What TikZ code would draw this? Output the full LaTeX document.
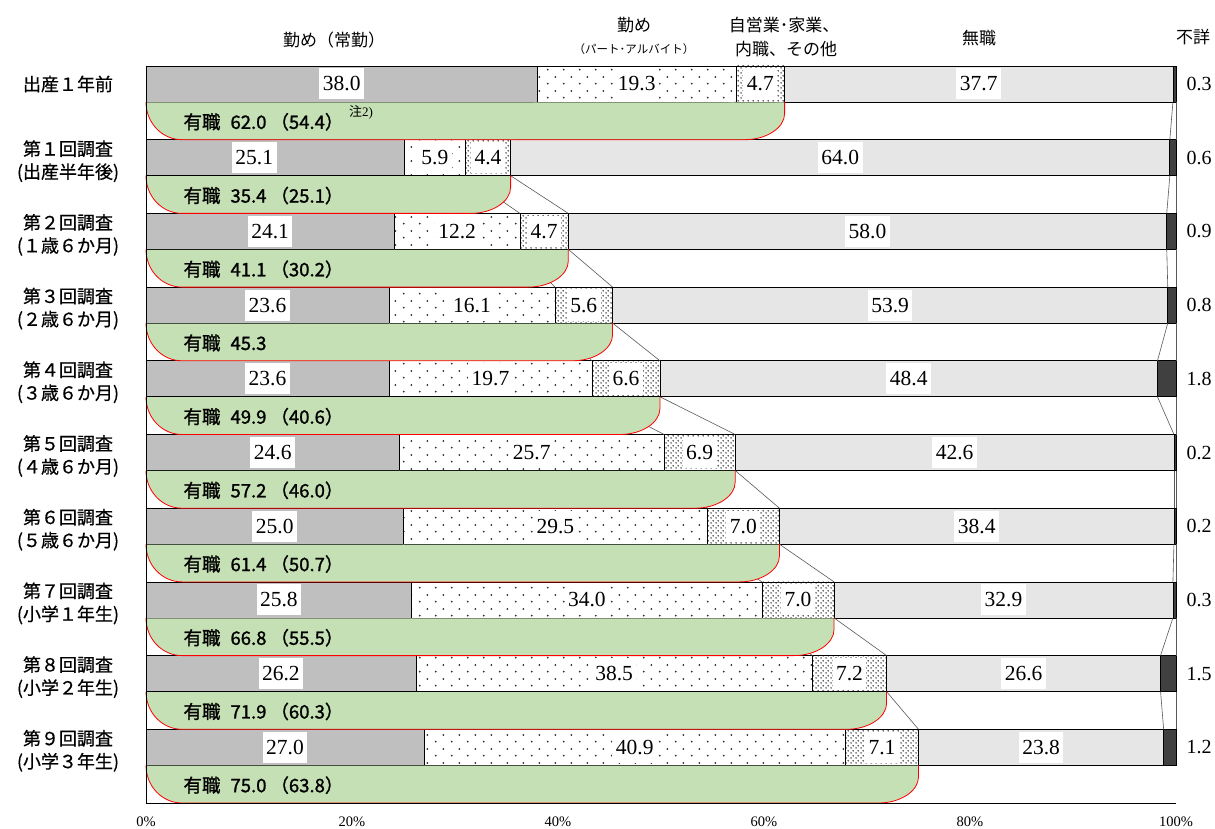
\documentclass[tikz,border=0pt]{standalone}
\usepackage{fontspec}
\setmainfont{Liberation Serif}
\newfontfamily\jp{Noto Sans CJK JP}
\newfontfamily\jpm[FakeBold=1.3]{Noto Sans CJK JP}
\newfontfamily\jpr[FakeBold=0.6]{Noto Sans CJK JP}
\usetikzlibrary{patterns}
\definecolor{regcol}{HTML}{BFBFBF}
\definecolor{nojob}{HTML}{E6E6E6}
\definecolor{unkcol}{HTML}{404040}
\definecolor{gcol}{HTML}{C5E0B4}
\definecolor{serline}{HTML}{595959}
\definecolor{dotcol}{HTML}{303030}
\pgfdeclarepatternformonly{sparsedots}{\pgfqpoint{0pt}{0pt}}{\pgfqpoint{16pt}{14pt}}{\pgfqpoint{16pt}{14pt}}{%
  \pgfpathcircle{\pgfqpoint{4pt}{3.5pt}}{1.05pt}%
  \pgfpathcircle{\pgfqpoint{12pt}{10.5pt}}{1.05pt}%
  \pgfusepath{fill}}
\pgfdeclarepatternformonly{densedots}{\pgfqpoint{0pt}{0pt}}{\pgfqpoint{5pt}{5pt}}{\pgfqpoint{5pt}{5pt}}{%
  \pgfpathcircle{\pgfqpoint{1.25pt}{1.25pt}}{0.95pt}%
  \pgfpathcircle{\pgfqpoint{3.75pt}{3.75pt}}{0.95pt}%
  \pgfusepath{fill}}
\def\rows{0/38.0/19.3/4.7/37.7/0.3/{有職\hspace{10pt}62.0\hspace{4pt}（54.4）}/0,
1/25.1/5.9/4.4/64.0/0.6/{有職\hspace{10pt}35.4\hspace{4pt}（25.1）}/-21,
2/24.1/12.2/4.7/58.0/0.9/{有職\hspace{10pt}41.1\hspace{4pt}（30.2）}/0,
3/23.6/16.1/5.6/53.9/0.8/{有職\hspace{10pt}45.3}/0,
4/23.6/19.7/6.6/48.4/1.8/{有職\hspace{10pt}49.9\hspace{4pt}（40.6）}/0,
5/24.6/25.7/6.9/42.6/0.2/{有職\hspace{10pt}57.2\hspace{4pt}（46.0）}/0,
6/25.0/29.5/7.0/38.4/0.2/{有職\hspace{10pt}61.4\hspace{4pt}（50.7）}/0,
7/25.8/34.0/7.0/32.9/0.3/{有職\hspace{10pt}66.8\hspace{4pt}（55.5）}/0,
8/26.2/38.5/7.2/26.6/1.5/{有職\hspace{10pt}71.9\hspace{4pt}（60.3）}/0,
9/27.0/40.9/7.1/23.8/1.2/{有職\hspace{10pt}75.0\hspace{4pt}（63.8）}/0}
\begin{document}
\begin{tikzpicture}[x=1pt,y=-1pt,
  seg/.style={draw=black,line width=0.7pt},
  num/.style={fill=white,inner xsep=3.5pt,inner ysep=0pt,minimum height=31pt,font=\fontsize{21.5}{21.5}\selectfont},
  ser/.style={draw=serline,line width=0.6pt},
  rowlab/.style={font=\jpr\fontsize{18}{18}\selectfont},
  hdr/.style={font=\jp\fontsize{17}{17}\selectfont},
  glab/.style={anchor=west,font=\jpm\fontsize{18.5}{18.5}\selectfont},
  unklab/.style={font=\fontsize{20}{20}\selectfont},
  ticklab/.style={font=\fontsize{14.5}{14.5}\selectfont}]
\useasboundingbox[fill=white] (0,0) rectangle (1215,829);
% bars
\foreach \i/\a/\b/\c/\d/\e/\lab/\off in \rows {
  \pgfmathsetmacro\yt{66+73.7*\i}
  \pgfmathsetmacro\yb{\yt+36}
  \pgfmathsetmacro\ym{\yt+18}
  \pgfmathsetmacro\xa{146+10.3*\a}
  \pgfmathsetmacro\xb{146+10.3*(\a+\b)}
  \pgfmathsetmacro\xc{146+10.3*(\a+\b+\c)}
  \pgfmathsetmacro\xd{1176-10.3*\e}
  \fill[regcol] (146,\yt) rectangle (\xa,\yb);
  \fill[white] (\xa,\yt) rectangle (\xc,\yb);
  \fill[pattern=sparsedots,pattern color=dotcol] (\xa,\yt) rectangle (\xb,\yb);
  \fill[pattern=densedots,pattern color=dotcol] (\xb,\yt) rectangle (\xc,\yb);
  \fill[nojob] (\xc,\yt) rectangle (\xd,\yb);
  \fill[unkcol] (\xd,\yt) rectangle (1176,\yb);
  \draw[seg] (146,\yt) rectangle (\xa,\yb) (\xa,\yt) rectangle (\xb,\yb)
     (\xb,\yt) rectangle (\xc,\yb) (\xc,\yt) rectangle (\xd,\yb) (\xd,\yt) rectangle (1176,\yb);
  \coordinate (b\i-1-top) at (\xa,\yt); \coordinate (b\i-1-bot) at (\xa,\yb);
  \coordinate (b\i-2-top) at (\xb,\yt); \coordinate (b\i-2-bot) at (\xb,\yb);
  \coordinate (b\i-3-top) at (\xc,\yt); \coordinate (b\i-3-bot) at (\xc,\yb);
  \coordinate (b\i-4-top) at (\xd,\yt); \coordinate (b\i-4-bot) at (\xd,\yb);
  \coordinate (b\i-5-top) at (1176,\yt); \coordinate (b\i-5-bot) at (1176,\yb);
  \node[num] (v\i-1) at ({(146+\xa)/2+\off},\ym) {\a};
  \node[num] (v\i-2) at ({(\xa+\xb)/2},\ym) {\b};
  \node[num] (v\i-3) at ({(\xb+\xc)/2},\ym) {\c};
  \node[num] (v\i-4) at ({(\xc+\xd)/2},\ym) {\d};
  \node[unklab] (v\i-5) at (1199,\ym) {\e};
}
% series lines
\foreach \i in {0,...,8} {
  \pgfmathtruncatemacro\j{\i+1}
  \foreach \k in {1,...,5} {\draw[ser] (b\i-\k-bot) -- (b\j-\k-top);}
}
% green bands
\foreach \i/\a/\b/\c/\d/\e/\lab/\off in \rows {
  \pgfmathsetmacro\yb{66+73.7*\i+36}
  \pgfmathsetmacro\yg{66+73.7*(\i+1)}
  \pgfmathsetmacro\xc{146+10.3*(\a+\b+\c)}
  \fill[gcol] (146,{\yb+0.4}) .. controls (146,{\yb+20.8}) and (162,\yg) .. (182,\yg)
     -- ({\xc-40},\yg) .. controls ({\xc-18},\yg) and (\xc,{\yg-12}) .. (\xc,{\yg-26})
     -- (\xc,{\yb+0.4}) -- cycle;
  \draw[red,line width=0.8pt] (146,\yb) .. controls (146,{\yb+20.8}) and (162,\yg) .. (182,\yg)
     -- ({\xc-40},\yg) .. controls ({\xc-18},\yg) and (\xc,{\yg-12}) .. (\xc,{\yg-26})
     -- (\xc,\yb);
  \node[glab] (g\i) at (180,{(\yb+\yg)/2+1}) {\lab};
}
\node[anchor=west,font=\fontsize{13}{13}\selectfont,inner sep=0pt] (note) at ([xshift=2pt,yshift=9pt]g0.east) {{\jp 注}2)};
% axes
\coordinate (o) at (146,803);
\coordinate (ytop) at (146,66);
\coordinate (xend) at (1176,803);
\draw[line width=0.8pt] (ytop) -- (o) -- (xend);
\foreach \k/\t in {0/0\%,1/20\%,2/40\%,3/60\%,4/80\%,5/100\%}
  \node[ticklab] (t\k) at ({146+206*\k},822) {\t};
% row labels
\node[rowlab] (r0) at (68,84) {出産１年前};
\foreach \i/\s/\p in {1/１/出産半年後,2/２/１歳６か月,3/３/２歳６か月,4/４/３歳６か月,5/５/４歳６か月,6/６/５歳６か月,7/７/小学１年生,8/８/小学２年生,9/９/小学３年生} {
  \pgfmathsetmacro\yt{66+73.7*\i}
  \node[rowlab] (r\i a) at (68,{\yt+9}) {第\s 回調査};
  \node[rowlab] (r\i b) at (68,{\yt+33}) {(\p)};
}
% headers
\node[hdr] (h1) at (334,40) {勤め（常勤）};
\node[hdr] (h2) at (634,25) {勤め};
\node[font=\jp\fontsize{11.5}{11.5}\selectfont] (h2b) at (634,49) {（パート･アルバイト）};
\node[hdr] (h3) at (784,25) {自営業･家業、};
\node[hdr] (h3b) at (786,49) {内職、その他};
\node[hdr] (h4) at (979,38) {無職};
\node[hdr] (h5) at (1193,37) {不詳};
\end{tikzpicture}
\end{document}
